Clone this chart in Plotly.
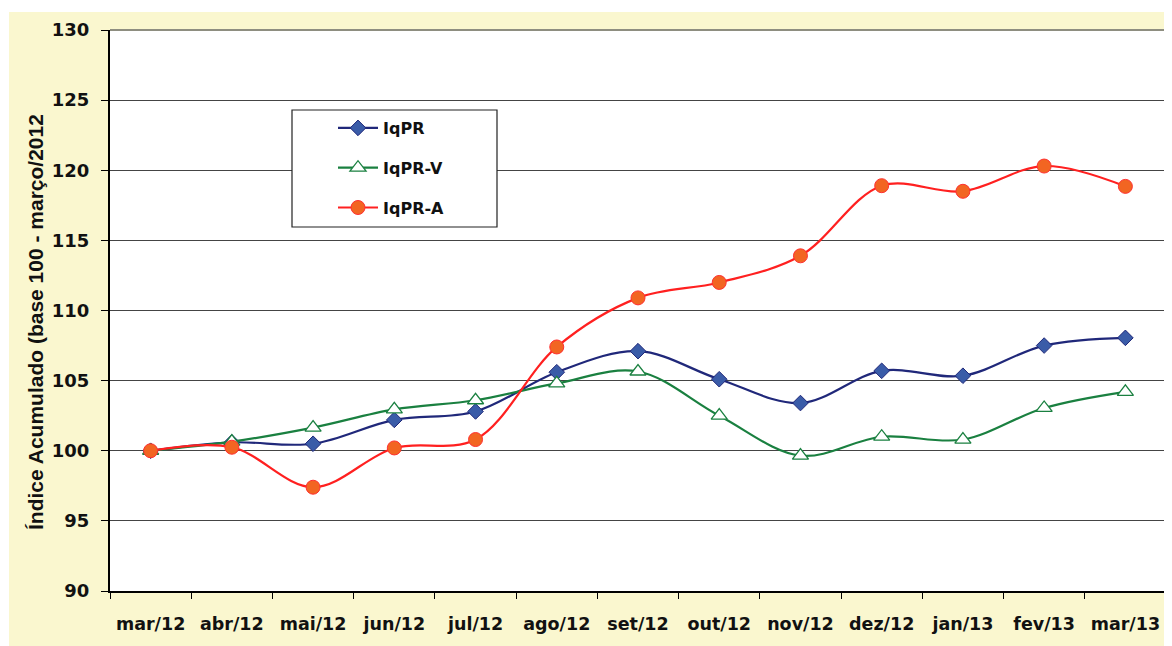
import plotly.graph_objects as go

months = ["mar/12", "abr/12", "mai/12", "jun/12", "jul/12", "ago/12", "set/12",
          "out/12", "nov/12", "dez/12", "jan/13", "fev/13", "mar/13"]
iqpr = [100.0, 100.6, 100.5, 102.2, 102.8, 105.6, 107.1, 105.1, 103.4, 105.7, 105.35, 107.5, 108.05]
iqpr_v = [100.0, 100.65, 101.65, 102.95, 103.6, 104.8, 105.65, 102.5, 99.65, 101.0, 100.8, 103.05, 104.2]
iqpr_a = [100.0, 100.25, 97.4, 100.2, 100.8, 107.4, 110.9, 112.0, 113.9, 118.9, 118.5, 120.3, 118.85]
y_ticks = [90, 95, 100, 105, 110, 115, 120, 125, 130]
y_title = "Índice Acumulado (base 100 - março/2012"

# page body has an 8px margin, so the figure is drawn 8px smaller and offset
OFF = 8
W, H = 1172 - OFF, 646 - OFF
SL, SR, ST, SB = 110, 1166, 30, 591          # plot area in screen pixels
L, T = SL - OFF, ST - OFF
R, B = W - (SR - OFF), H - (SB - OFF)
PW, PH = SR - SL, SB - ST

def px(x):
    return (x - SL) / PW

def py(y):
    return (SB - y) / PH

YELLOW = "#FAF7CF"
tick_font = dict(family="DejaVu Sans", size=17.5, color="#111111", weight="bold")

fig = go.Figure()
fig.add_trace(go.Scatter(
    x=months, y=iqpr, name="IqPR", mode="lines+markers", legendgroup="a",
    line=dict(color="#20287A", width=2.2, shape="spline", smoothing=1),
    marker=dict(symbol="diamond", size=12, color="#3A5CA8", line=dict(color="#20287A", width=1))))
fig.add_trace(go.Scatter(
    x=months, y=iqpr_v, name="IqPR-V", mode="lines+markers", legendgroup="b",
    line=dict(color="#1A8040", width=2.2, shape="spline", smoothing=1),
    marker=dict(symbol="triangle-up", size=14, color="white", line=dict(color="#1A8040", width=1.3))))
fig.add_trace(go.Scatter(
    x=months, y=iqpr_a, name="IqPR-A", mode="lines+markers", legendgroup="c",
    line=dict(color="#FF2020", width=2.2, shape="spline", smoothing=1),
    marker=dict(symbol="circle", size=14, color="#F26522", line=dict(color="#FF3030", width=1))))

shapes = [
    # white strips at top and left of the yellow panel
    dict(type="rect", xref="paper", yref="paper", x0=px(0), x1=px(1200), y0=py(12), y1=py(0),
         fillcolor="white", line=dict(width=0), layer="below"),
    dict(type="rect", xref="paper", yref="paper", x0=px(0), x1=px(9), y0=py(700), y1=py(0),
         fillcolor="white", line=dict(width=0), layer="below"),
    # top/right border of plot area
    dict(type="line", xref="paper", yref="paper", x0=0, x1=1, y0=1, y1=1,
         line=dict(color="#8E8E80", width=2), layer="above"),
    dict(type="line", xref="paper", yref="paper", x0=1, x1=1, y0=0, y1=1,
         line=dict(color="#8E8E80", width=2), layer="above"),
    # legend box
    dict(type="rect", xref="paper", yref="paper", x0=px(292), x1=px(497), y0=py(227), y1=py(110),
         fillcolor="white", line=dict(color="#222222", width=1.2), layer="above"),
]

fig.update_layout(
    width=W, height=H,
    margin=dict(l=L, r=R, t=T, b=B),
    paper_bgcolor=YELLOW, plot_bgcolor="white",
    showlegend=True,
    legend=dict(x=px(333), y=py(111), xanchor="left", yanchor="top",
                bgcolor="rgba(0,0,0,0)", borderwidth=0,
                font=dict(family="DejaVu Sans", size=16, color="#111111", weight="bold"),
                traceorder="grouped", tracegroupgap=16, itemwidth=40),
    shapes=shapes,
    annotations=[dict(text=y_title, xref="paper", yref="paper", x=px(35), y=py(322),
                      textangle=-90, showarrow=False, xanchor="center", yanchor="middle",
                      font=dict(family="Liberation Sans", size=21, color="#111111", weight="bold"))],
    xaxis=dict(type="category", categoryorder="array", categoryarray=months,
               showgrid=False, showline=True, linecolor="#000000", linewidth=2,
               ticks="outside", ticklen=6, tickcolor="#000000", tickwidth=1.2,
               tickson="boundaries", tickfont=tick_font, ticklabelstandoff=16,
               range=[-0.5, 12.5]),
    yaxis=dict(range=[90, 130], tickvals=y_ticks, showgrid=True, gridcolor="#444444",
               gridwidth=1.2, showline=True, linecolor="#000000", linewidth=2,
               ticks="outside", ticklen=7, tickcolor="#000000", tickwidth=1.2,
               tickfont=dict(family="DejaVu Sans", size=18, color="#111111", weight="bold"),
               ticklabelstandoff=8, zeroline=False),
)

fig.write_html("out.html")
